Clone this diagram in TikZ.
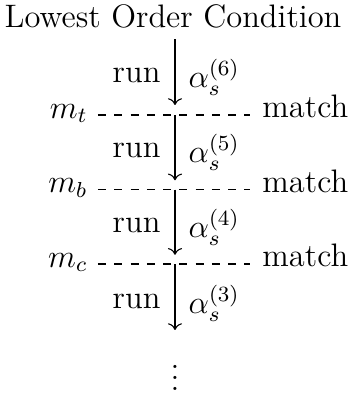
\documentclass[12pt,tikz,border=0pt]{standalone}
\usetikzlibrary{cd}
\begin{document}
\begin{tikzpicture}[x=0.369pt,y=-0.369pt,
  lbl/.style={inner sep=0pt},
  mlbl/.style={inner ysep=0pt, inner xsep=3.7pt, anchor=base east},
  rlbl/.style={inner ysep=0pt, inner xsep=4.4pt, anchor=base west},
  runlbl/.style={inner sep=0pt, anchor=base east},
  alab/.style={inner sep=0pt, anchor=base west},
  arr/.style={-{cm to}, line width=0.4pt},
  dline/.style={dashed, line width=0.4pt}]
\useasboundingbox (0,0) rectangle (347,397);
\node[inner xsep=0pt, inner ysep=4pt, anchor=base] (top) at (173,27) {Lowest Order Condition};
\coordinate (x1) at (175,115);
\coordinate (x2) at (175,189.5);
\coordinate (x3) at (175,264);
% scale labels
\node[mlbl] (m1) at (98,118) {$m_t$};
\node[mlbl] (m2) at (98,192.5) {$m_b$};
\node[mlbl] (m3) at (98,267) {$m_c$};
\node[rlbl] (t1) at (250,117.5) {match};
\node[rlbl] (t2) at (250,192) {match};
\node[rlbl] (t3) at (250,266.5) {match};
\draw[dline] (m1.east |- x1) -- (t1.west |- x1);
\draw[dline] (m2.east |- x2) -- (t2.west |- x2);
\draw[dline] (m3.east |- x3) -- (t3.west |- x3);
% dots
\node[lbl, anchor=base] (dots) at (175,390.6) {$\vdots$};
% arrows
\draw[arr, shorten >=3.7pt] (top.south -| x1) -- (x1);
\draw[arr, shorten >=3.4pt] (x1) -- (x2);
\draw[arr, shorten >=3.4pt] (x2) -- (x3);
\draw[arr, shorten >=7pt] (x3) -- (dots.north);
% run labels
\node[runlbl] (r1) at (161,82) {run};
\node[runlbl] (r2) at (161,157) {run};
\node[runlbl] (r3) at (161,232) {run};
\node[runlbl] (r4) at (161,308) {run};
\node[alab] (a1) at (188,87) {$\alpha_s^{(6)}$};
\node[alab] (a2) at (188,162) {$\alpha_s^{(5)}$};
\node[alab] (a3) at (188,237) {$\alpha_s^{(4)}$};
\node[alab] (a4) at (188,313) {$\alpha_s^{(3)}$};
\end{tikzpicture}
\end{document}
